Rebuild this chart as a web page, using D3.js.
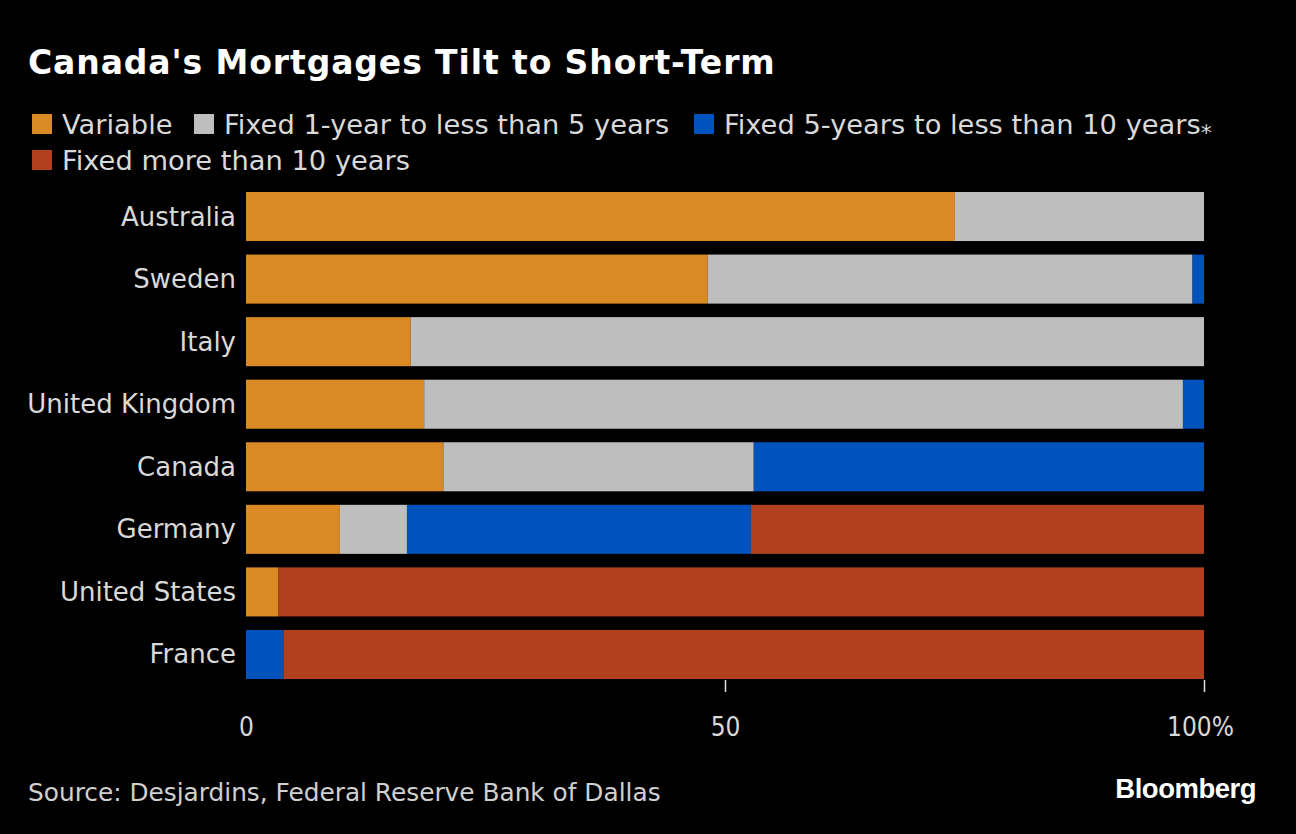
<!DOCTYPE html>
<html><head><meta charset="utf-8">
<script src="https://cdn.jsdelivr.net/npm/d3@7"></script>
<style>
html,body{margin:0;padding:0;background:#000;}
svg{display:block;}
</style></head>
<body>
<svg id="chart" width="1296" height="834"></svg>
<script>
const countries = ["Australia","Sweden","Italy","United Kingdom","Canada","Germany","United States","France"];
const seriesNames = ["Variable","Fixed 1-year to less than 5 years","Fixed 5-years to less than 10 years*","Fixed more than 10 years"];
const variable  = [74.0, 48.2, 17.2, 18.6, 20.6,  9.8,  3.4,  0.0];
const fixed1to5 = [26.0, 50.6, 82.8, 79.2, 32.4,  7.0,  0.0,  0.0];
const fixed5to10= [ 0.0,  1.2,  0.0,  2.2, 47.0, 35.9,  0.0,  3.9];
const fixed10   = [ 0.0,  0.0,  0.0,  0.0,  0.0, 47.3, 96.6, 96.1];
const xTicks = [0, 50, 100];
const colors = ["#da8a25", "#bebebe", "#0053bc", "#b0401e"];

const svg = d3.select("#chart");
const font = "'DejaVu Sans',sans-serif";
const fontC = "'DejaVu Sans Condensed','DejaVu Sans',sans-serif";

svg.append("rect").attr("width",1296).attr("height",834).attr("fill","#000");

svg.append("text").attr("x",28).attr("y",74)
  .attr("fill","#fff").attr("font-family","'DejaVu Sans',sans-serif")
  .attr("font-weight","bold").attr("font-size",33).attr("letter-spacing",0.9)
  .text("Canada's Mortgages Tilt to Short-Term");

// legend
const legendItems = [
  {x:32, y:124, i:0},
  {x:194, y:124, i:1},
  {x:694, y:124, i:2},
  {x:32, y:160, i:3}
];
const lg = svg.append("g");
legendItems.forEach(d => {
  lg.append("rect").attr("x",d.x).attr("y",d.y-10).attr("width",20).attr("height",20).attr("fill",colors[d.i]);
  const name = seriesNames[d.i];
  const t = lg.append("text").attr("x",d.x+30).attr("y",d.y+10)
    .attr("fill","#d9d9d9").attr("font-family",font).attr("font-size",27.3);
  if (name.endsWith("*")) {
    t.text(name.slice(0,-1));
    t.append("tspan").attr("font-size",22).attr("dy",-1).text("\u204E");
  } else t.text(name);
});

const x = d3.scaleLinear().domain([0,100]).range([246,1204]);
const y = d3.scaleBand().domain(countries).range([192,679]).paddingInner(0.216).paddingOuter(0);

const data = countries.map((c,i)=>({country:c, v0:variable[i], v1:fixed1to5[i], v2:fixed5to10[i], v3:fixed10[i]}));
const stack = d3.stack().keys(["v0","v1","v2","v3"])(data);

svg.append("g").selectAll("g").data(stack).join("g")
  .attr("fill",(d,i)=>colors[i])
  .selectAll("rect").data(d=>d).join("rect")
  .attr("x",d=>x(d[0])).attr("width",d=>Math.max(0,x(d[1])-x(d[0])))
  .attr("y",d=>y(d.data.country)).attr("height",y.bandwidth());

// y labels
svg.append("g").selectAll("text").data(countries).join("text")
  .attr("x",236).attr("y",d=>y(d)+y.bandwidth()/2+9)
  .attr("text-anchor","end").attr("fill","#d9d9d9")
  .attr("font-family",font).attr("font-size",26).text(d=>d);

// x axis
const xAxis = d3.axisBottom(x).tickValues(xTicks).tickSize(12).tickPadding(26)
  .tickFormat(d => d===100 ? "100%" : d);
const gx = svg.append("g").attr("transform","translate(0,680)").call(xAxis);
gx.select(".domain").remove();
gx.selectAll(".tick line").attr("stroke","#e0e0e0").attr("stroke-width",1.5)
  .attr("display",d=>d===0?"none":null);
gx.selectAll(".tick text").attr("fill","#d9d9d9").attr("font-family",fontC).attr("font-size",26)
  .attr("dx",d=>d===100?-4:0);

// footer
svg.append("text").attr("x",28).attr("y",801).attr("fill","#d0d0d0")
  .attr("font-family",font).attr("font-size",24.8)
  .text("Source: Desjardins, Federal Reserve Bank of Dallas");
svg.append("text").attr("x",1256).attr("y",798).attr("text-anchor","end").attr("fill","#fff")
  .attr("font-family","'Liberation Sans',Arial,sans-serif").attr("font-weight","bold").attr("font-size",27.5)
  .attr("letter-spacing",-0.5)
  .text("Bloomberg");
</script>
</body></html>
